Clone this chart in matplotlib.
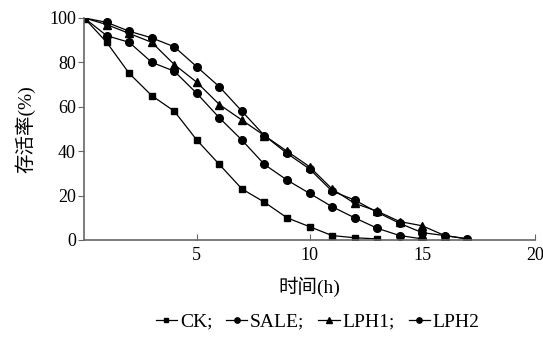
import numpy as np
import matplotlib
matplotlib.use("Agg")
import matplotlib.pyplot as plt

plt.rcParams['font.family'] = ['Liberation Serif', 'Noto Sans CJK SC']

# survival (%) vs time (h)
t_ck = [0, 1, 2, 3, 4, 5, 6, 7, 8, 9, 10, 11, 12, 13]
ck = [100, 89, 75, 65, 58, 45, 34, 23, 17, 10, 6, 2, 1, 0.5]

t_sale = [0, 1, 2, 3, 4, 5, 6, 7, 8, 9, 10, 11, 12, 13, 14, 15]
sale = [100, 92, 89, 80, 76, 66, 55, 45, 34, 27, 21, 15, 10, 5.3, 2, 0.5]

t_lph = [0, 1, 2, 3, 4, 5, 6, 7, 8, 9, 10, 11, 12, 13, 14, 15, 16, 17]
lph1 = [100, 97, 93, 89, 79, 71, 61, 54, 47, 40, 33, 23, 16.5, 13, 8.3, 6.4, 2, 0.5]
lph2 = [100, 98, 94, 91, 87, 78, 69, 58, 47, 39, 32, 22, 18, 12.5, 7.5, 3.3, 2, 0.5]

labels = ['CK;', 'SALE;', 'LPH1;', 'LPH2']

fig = plt.figure(figsize=(5.43, 3.38), dpi=100)
ax = fig.add_axes([0.155, 0.29, 0.83, 0.657])

ax.plot(t_ck, ck, color='black', lw=0.9, marker='s', ms=4.5, label=labels[0])
ax.plot(t_sale, sale, color='black', lw=0.9, marker='o', ms=5.5, label=labels[1])
ax.plot(t_lph, lph1, color='black', lw=0.9, marker='^', ms=5.5, label=labels[2])
ax.plot(t_lph, lph2, color='black', lw=0.9, marker='o', ms=5.5, label=labels[3])

ax.set_xlim(0, 20)
ax.set_ylim(0, 100)
ax.set_xticks([5, 10, 15, 20])
ax.set_yticks([0, 20, 40, 60, 80, 100])
for s in ['top', 'right']:
    ax.spines[s].set_visible(False)
for s in ['left', 'bottom']:
    ax.spines[s].set_color('0.4')
    ax.spines[s].set_linewidth(1.2)
ax.tick_params(axis='x', direction='in', length=4, color='0.4', labelsize=13, pad=5)
ax.tick_params(axis='y', direction='out', length=4, color='0.4', labelsize=13, pad=2)

ax.set_xlabel('时间(h)', fontsize=14, labelpad=9)
ax.set_ylabel('存活率(%)', fontsize=14, labelpad=10)

fig.legend(loc='lower center', bbox_to_anchor=(0.585, -0.03), ncol=4, frameon=False,
           fontsize=14, handlelength=1.1, handletextpad=0.15, columnspacing=0.7,
           markerscale=0.7)

fig.savefig('out.png', dpi=100)
